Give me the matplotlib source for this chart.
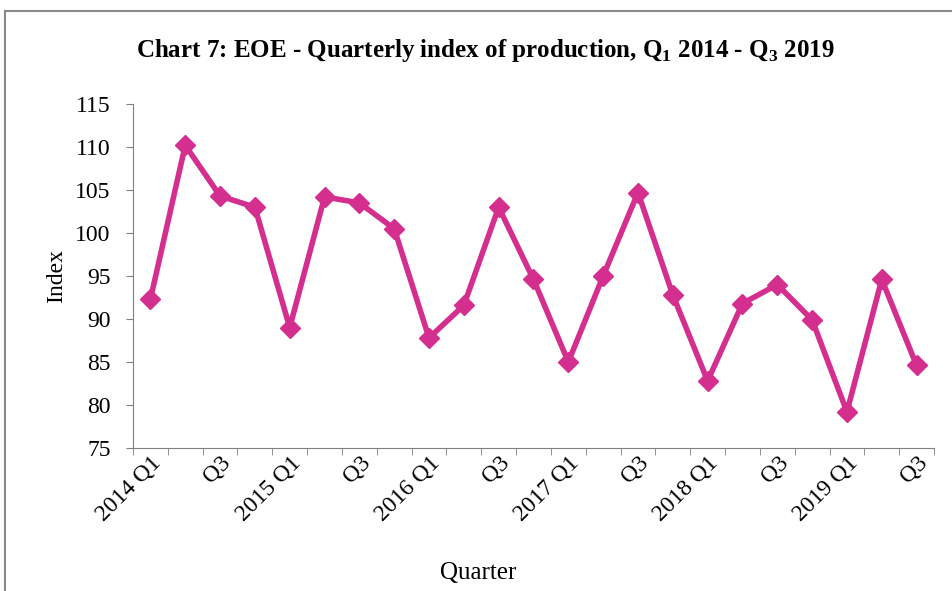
import numpy as np
import matplotlib.pyplot as plt
from matplotlib.lines import Line2D

quarters = ['2014 Q1', 'Q2', 'Q3', 'Q4', '2015 Q1', 'Q2', 'Q3', 'Q4',
            '2016 Q1', 'Q2', 'Q3', 'Q4', '2017 Q1', 'Q2', 'Q3', 'Q4',
            '2018 Q1', 'Q2', 'Q3', 'Q4', '2019 Q1', 'Q2', 'Q3']
index_values = [92.3, 110.2, 104.3, 103.0, 89.0, 104.2, 103.5, 100.5,
                87.8, 91.6, 103.0, 94.6, 85.0, 95.0, 104.7, 92.8,
                82.8, 91.8, 94.0, 89.9, 79.2, 94.6, 84.6]

plt.rcParams['font.family'] = 'Liberation Serif'

fig = plt.figure(figsize=(9.53, 5.91), dpi=100)
# outer chart frame (cut off on the right/bottom like the source)
fx, fy = 5 / 953, 1 - 11 / 591
fig.lines.append(Line2D([fx, 1.0], [fy, fy], transform=fig.transFigure,
                        color='#8a8a8a', linewidth=1.5))
fig.lines.append(Line2D([fx, fx], [0.0, fy], transform=fig.transFigure,
                        color='#8a8a8a', linewidth=1.5))

ax = fig.add_axes([133 / 953, 1 - 448 / 591, 801 / 953, 344 / 591])
x = np.arange(len(quarters))
ax.plot(x, index_values, color='#D42E8E', linewidth=4, marker='D',
        markersize=10, clip_on=False)

ax.set_xlim(-0.5, len(quarters) - 0.5)
ax.set_ylim(75, 115)
ax.set_yticks(np.arange(75, 116, 5))
ax.tick_params(axis='y', labelsize=17, length=5, color='#808080', pad=11)

ax.set_xticks(x[::2])
ax.set_xticklabels(quarters[::2], rotation=45, ha='right', va='top',
                   rotation_mode='anchor', fontsize=17)
ax.tick_params(axis='x', which='major', length=0, pad=3)
ax.set_xticks(np.arange(-0.5, len(quarters), 1), minor=True)
ax.tick_params(axis='x', which='minor', length=5, color='#808080')

for side in ['top', 'right']:
    ax.spines[side].set_visible(False)
for side in ['left', 'bottom']:
    ax.spines[side].set_color('#808080')

ax.set_ylabel('Index', fontsize=17, labelpad=6)
fig.text(478 / 953, 1 - 573 / 591, 'Quarter', fontsize=18, ha='center', va='center')

fig.text(485 / 953, 1 - 51 / 591,
         r'Chart 7: EOE - Quarterly index of production, Q$_\mathregular{1}$ 2014 - Q$_\mathregular{3}$ 2019',
         fontsize=18, fontweight='bold', ha='center', va='center')

fig.savefig('out.png', dpi=100)
